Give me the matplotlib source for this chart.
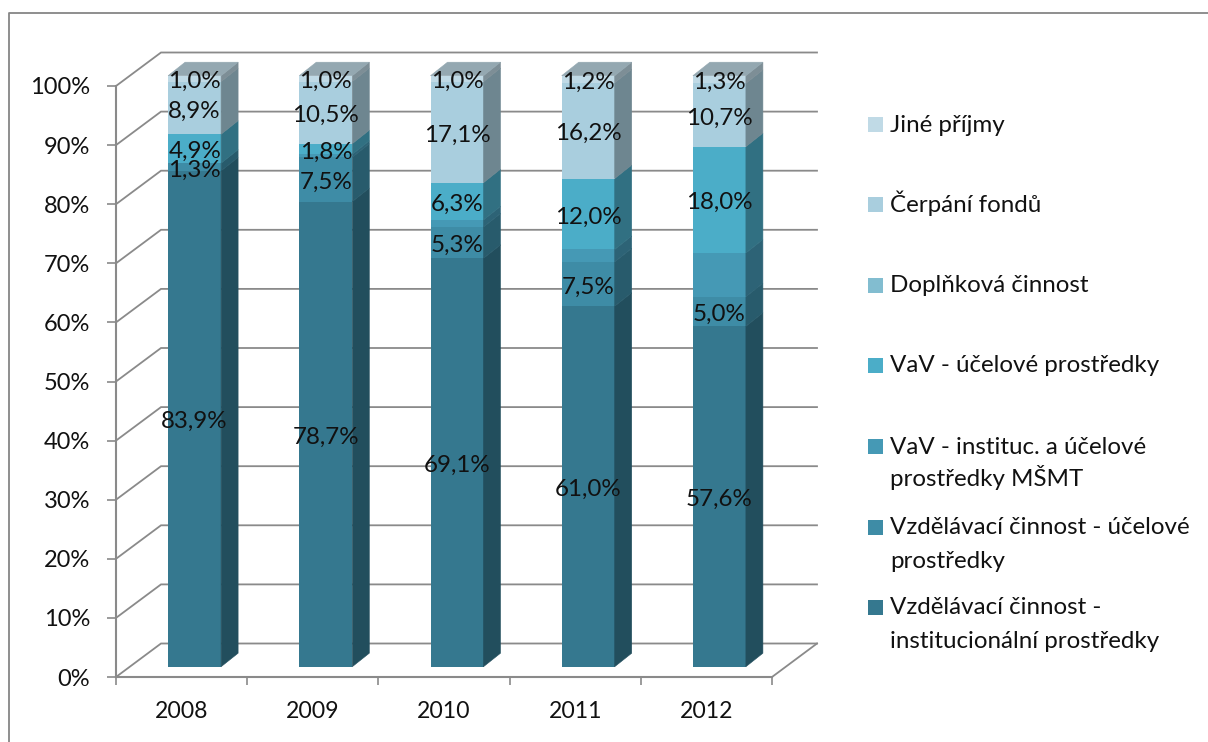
"""Stacked pseudo-3D bars of income structure, 2008-2012."""

import matplotlib
matplotlib.use("Agg")
import matplotlib.pyplot as plt
import numpy as np
from matplotlib.lines import Line2D
from matplotlib.patches import Polygon, Rectangle

years = ["2008", "2009", "2010", "2011", "2012"]

# bottom to top
inst_prostredky = [83.9, 78.7, 69.1, 61.0, 57.6]
ucel_prostredky = [1.3, 7.5, 5.3, 7.5, 5.0]
vav_msmt = [0.0, 0.5, 1.2, 2.1, 7.4]
vav_ucel = [4.9, 1.8, 6.3, 12.0, 18.0]
doplnkova = [0.0, 0.0, 0.0, 0.0, 0.0]
cerpani = [8.9, 10.5, 17.1, 16.2, 10.7]
jine = [1.0, 1.0, 1.0, 1.2, 1.3]

series = [inst_prostredky, ucel_prostredky, vav_msmt, vav_ucel, doplnkova, cerpani, jine]
unlabelled = [2, 4]
colors = ["#35788F", "#3E8CA6", "#4599B5", "#4BADC8", "#82BDD0", "#A9CEDE", "#C0DAE6"]

legend_labels = [
    "Jiné příjmy",
    "Čerpání fondů",
    "Doplňková činnost",
    "VaV - účelové prostředky",
    "VaV - instituc. a účelové\nprostředky MŠMT",
    "Vzdělávací činnost - účelové\nprostředky",
    "Vzdělávací činnost -\ninstitucionální prostředky",
]
legend_colors = colors[::-1]
legend_y_px = [124, 204, 285, 365, 446, 527, 607]

W, H = 1208, 742
LEFT, RIGHT, TOP, BOTTOM = 116, 772, 86, 677
GRID = "#8A8A8A"
FONT = "Lato"
FS_LABEL = 17.4
FS_YTICK = 17
FS_XTICK = 16.6
INK = "#111111"

plt.rcParams["font.family"] = [FONT, "DejaVu Sans"]

fig = plt.figure(figsize=(W / 100, H / 100), dpi=100, facecolor="white")
ax = fig.add_axes([LEFT / W, 1 - BOTTOM / H, (RIGHT - LEFT) / W, (BOTTOM - TOP) / H])
ax.patch.set_alpha(0)
ax.set_xlim(-0.5, 4.5)
ax.set_ylim(0, 100)

# pixels to data units
px_x = (len(years)) / (RIGHT - LEFT)
px_y = 100 / (BOTTOM - TOP)

# outer frame, only left and top edges are inside the picture
fig.add_artist(Line2D([9 / W, 9 / W, 1], [0, 1 - 13 / H, 1 - 13 / H], color="#868686", lw=1.3))

# back wall grid
wall_dx, wall_dy = 45 * px_x, 33.5 * px_y
yticks = np.arange(0, 101, 10)
for v in yticks:
    ax.plot([-0.5, -0.5 + wall_dx, 4.5 + wall_dx], [v, v + wall_dy, v + wall_dy],
            color=GRID, lw=1.3, clip_on=False, zorder=1, solid_joinstyle="miter")
ax.plot([4.5, 4.5 + wall_dx], [0, wall_dy], color=GRID, lw=1.3, clip_on=False, zorder=1)

# bars
off_x, off_y = 13 * px_x, 10.3 * px_y
depth_x, depth_y = 17 * px_x, 13.5 * px_y
bar_w = 53 * px_x
x = np.arange(len(years)) + off_x
bottoms = np.zeros(len(years))


def shade(color, k):
    rgb = np.array(matplotlib.colors.to_rgb(color)) * k
    return tuple(rgb)


for i, vals in enumerate(series):
    vals = np.array(vals)
    ax.bar(x, vals, bottom=bottoms + off_y, width=bar_w, color=colors[i], lw=0,
           clip_on=False, zorder=3)
    for j in range(len(years)):
        if vals[j] == 0:
            continue
        x1 = x[j] + bar_w / 2
        b = bottoms[j] + off_y
        t = b + vals[j]
        side = shade(colors[i], 0.65)
        ax.add_patch(Polygon([(x1, b), (x1 + depth_x, b + depth_y),
                              (x1 + depth_x, t + depth_y), (x1, t)],
                             closed=True, facecolor=side, edgecolor=side, lw=0.4,
                             clip_on=False, zorder=3))
        if i not in unlabelled:
            label = f"{vals[j]:.1f}%".replace(".", ",")
            ax.text(x[j], b + vals[j] / 2 - 0.5, label, ha="center", va="center",
                    fontsize=FS_LABEL, color=INK, clip_on=False, zorder=6)
    bottoms = bottoms + vals

# top faces
top_color = shade(colors[-1], 0.77)
for j in range(len(years)):
    x0, x1 = x[j] - bar_w / 2, x[j] + bar_w / 2
    t = bottoms[j] + off_y
    ax.add_patch(Polygon([(x0, t), (x1, t), (x1 + depth_x, t + depth_y), (x0 + depth_x, t + depth_y)],
                         closed=True, facecolor=top_color, edgecolor=top_color, lw=0.4,
                         clip_on=False, zorder=3))

# axes
for s in ["top", "right"]:
    ax.spines[s].set_visible(False)
for s in ["left", "bottom"]:
    ax.spines[s].set_color(GRID)
    ax.spines[s].set_linewidth(1.5)
ax.set_yticks(yticks)
ax.set_yticklabels([f"{v}%" for v in yticks], fontsize=FS_YTICK, color=INK)
ax.tick_params(axis="y", length=6.5, width=1.2, color=GRID, pad=12)
ax.set_xticks(np.arange(-0.5, 5))
ax.set_xticklabels([])
ax.set_xticks(np.arange(len(years)), labels=years, minor=True, fontsize=FS_XTICK, color=INK)
ax.tick_params(axis="x", which="major", length=5.5, width=1.2, color=GRID)
ax.tick_params(axis="x", which="minor", length=0, pad=17)

# legend, square sits on the first line of each entry
for label, color, y_px in zip(legend_labels, legend_colors, legend_y_px):
    fig.add_artist(Rectangle((868 / W, 1 - (y_px + 7.5) / H), 15 / W, 15 / H,
                             transform=fig.transFigure, facecolor=color, lw=0))
    # one text per line, matplotlib's line height changes with the accents
    for n, line in enumerate(label.split("\n")):
        fig.text(890 / W, 1 - (y_px + 7.5 + n * 33) / H, line, ha="left", va="baseline",
                 fontsize=FS_LABEL, color=INK)

fig.savefig("out.png", dpi=100)
plt.close(fig)
